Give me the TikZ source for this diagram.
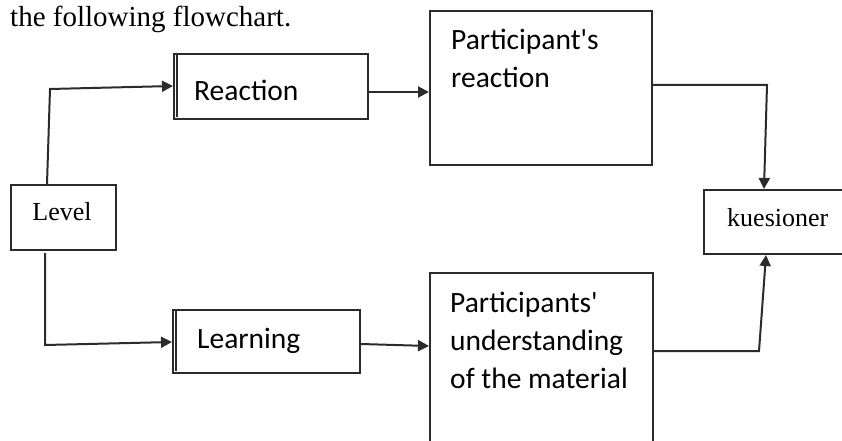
\documentclass[tikz,border=0pt]{standalone}
\usepackage{fontspec}
\setmainfont{Liberation Serif}
\newfontfamily\calib{Carlito}
\usetikzlibrary{arrows.meta}
\definecolor{edge}{HTML}{2b2b2b}
\begin{document}
\begin{tikzpicture}[x=1pt,y=-1pt,
  box/.style={draw=edge,line width=2pt,inner sep=0pt,anchor=north west},
  conn/.style={draw=edge,line width=2pt},
  arr/.style={conn,-{Triangle[length=11pt,width=11pt]}},
  boxtxt/.style={font=\calib\fontsize{29.5}{38}\selectfont,inner sep=0pt,anchor=base west,align=left},
  sertxt/.style={font=\fontsize{26}{30}\selectfont,inner sep=0pt}]
\useasboundingbox (0,0) rectangle (842,441);
\node[inner sep=0pt,anchor=base west,font=\fontsize{29}{32}\selectfont] (title) at (10,27) {the following flowchart.};
% boxes
\node[box,minimum width=194pt,minimum height=65pt] (reaction) at (173,53) {};
\draw[edge,line width=1.5pt] (176.8,54) -- (176.8,117);
\node[boxtxt] (reactiontxt) at (194,100) {Reaction};
\node[box,minimum width=187pt,minimum height=63pt] (learning) at (172,309) {};
\draw[edge,line width=1.5pt] (175.8,310) -- (175.8,371);
\node[boxtxt] (learningtxt) at (197,348) {Learning};
\node[box,minimum width=222pt,minimum height=154pt] (preact) at (429,10) {};
\node[boxtxt] (preacttxt) at (451,88) {Participant's\\reaction};
\node[box,minimum width=223pt,minimum height=200pt] (pund) at (429,272) {};
\node[boxtxt] (pundtxt) at (450,388) {Participants'\\understanding\\of the material};
\node[box,minimum width=150pt,minimum height=64pt] (kues) at (703,189) {};
\node[sertxt,anchor=base west] (kuestxt) at (727,226) {kuesioner};
\node[box,minimum width=105pt,minimum height=65pt] (level) at (10,184) {};
\node[sertxt] (leveltxt) at (62,212) {Level};
% connectors
\coordinate (l1) at (50,89);
\coordinate (l2) at (45,345);
\draw[arr] (level.north -| 47,0) -- (l1) -- (reaction.west |- 0,86);
\draw[arr] (45,253) -- (l2) -- (learning.west |- 0,342);
\draw[arr] (reaction.east |- 0,92) -- (preact.west |- 0,92);
\draw[arr] (learning.east |- 0,344) -- (pund.west |- 0,346);
\coordinate (r1) at (767,85);
\draw[arr] (preact.east |- 0,85) -- (r1) -- (kues.north -| 764,0);
\coordinate (r2) at (759,351);
\draw[arr] (pund.east |- 0,351) -- (r2) -- (kues.south -| 766,0);
\end{tikzpicture}
\end{document}
